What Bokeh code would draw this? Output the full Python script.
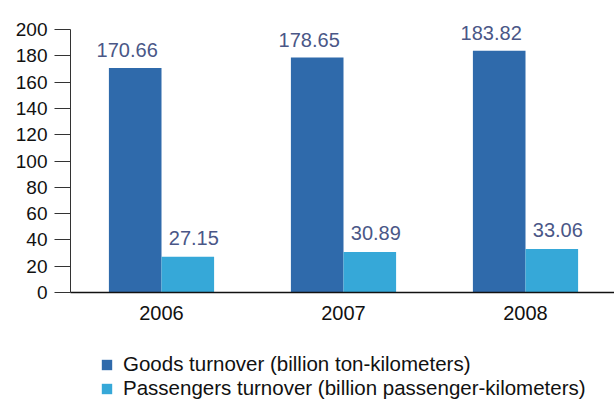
from bokeh.plotting import figure
from bokeh.layouts import column
from bokeh.models import ColumnDataSource, Range1d, FixedTicker, Legend, LegendItem
from bokeh.transform import dodge
from bokeh.embed import file_html
from bokeh.resources import INLINE
from bokeh.core.properties import value

years = [2006, 2007, 2008]
goods = [170.66, 178.65, 183.82]
passengers = [27.15, 30.89, 33.06]
goods_labels = ["170.66", "178.65", "183.82"]
passenger_labels = ["27.15", "30.89", "33.06"]
y_ticks = [0, 20, 40, 60, 80, 100, 120, 140, 160, 180, 200]
series_names = ["Goods turnover (billion ton-kilometers)",
                "Passengers turnover (billion passenger-kilometers)"]

DARK = "#2f6aab"
LIGHT = "#36a8d8"
LABEL_COL = "#4a5787"
FONT = "Liberation Sans"

src = ColumnDataSource(dict(x=years, goods=goods, passengers=passengers,
                            gl=goods_labels, pl=passenger_labels))

W = 614
# frame spans y = 0..292 px; the 0..200 axis occupies the lower 263 px
y_top = 200 * 292 / 263
p = figure(width=W, height=340, output_backend="svg", toolbar_location=None,
           x_range=Range1d(2005.5, 2005.5 + (W - 70) / 182),
           y_range=Range1d(0, y_top),
           min_border_left=70, min_border_right=0, min_border_top=0,
           min_border_bottom=48)
p.outline_line_color = None
p.background_fill_color = "white"
p.border_fill_color = "white"
p.xgrid.visible = False
p.ygrid.visible = False

off = 0.1445
bw = 0.289
r1 = p.vbar(x=dodge("x", -off, range=p.x_range), top="goods", width=bw,
            source=src, color=DARK, line_color=None)
r2 = p.vbar(x=dodge("x", off, range=p.x_range), top="passengers", width=bw,
            source=src, color=LIGHT, line_color=None)

p.text(x=dodge("x", -off, range=p.x_range), y="goods", text="gl", source=src,
       x_offset=-8, y_offset=-18, text_align="center", text_baseline="alphabetic",
       text_font=value(FONT), text_font_size="20px", text_color=LABEL_COL)
p.text(x=dodge("x", off, range=p.x_range), y="passengers", text="pl", source=src,
       x_offset=6, y_offset=-19, text_align="center", text_baseline="alphabetic",
       text_font=value(FONT), text_font_size="20px", text_color=LABEL_COL)

# y axis
ya = p.yaxis[0]
ya.ticker = FixedTicker(ticks=y_ticks)
ya.bounds = (0, 200)
ya.minor_tick_line_color = None
ya.major_tick_in = 0
ya.major_tick_out = 16
ya.axis_line_color = "#333333"
ya.major_tick_line_color = "#333333"
ya.major_label_text_font = FONT
ya.major_label_text_font_size = "19px"
ya.major_label_text_color = "#111111"
ya.major_label_standoff = 7

# x axis
xa = p.xaxis[0]
xa.ticker = FixedTicker(ticks=years)
xa.minor_tick_line_color = None
xa.major_tick_in = 0
xa.major_tick_out = 0
xa.axis_line_color = "#111111"
xa.axis_line_width = 1.5
xa.major_label_text_font = FONT
xa.major_label_text_font_size = "20px"
xa.major_label_text_color = "#111111"
xa.major_label_standoff = 13

# legend in a separate strip below the chart
lg = figure(width=W, height=60, output_backend="svg", toolbar_location=None,
            x_range=Range1d(0, 1), y_range=Range1d(0, 1),
            x_axis_location=None, y_axis_location=None,
            min_border=0, min_border_left=0, min_border_right=0,
            min_border_top=0, min_border_bottom=0)
lg.grid.visible = False
lg.outline_line_color = None
dummy = ColumnDataSource(dict(x=[5], top=[0]))
l1 = lg.vbar(x="x", top="top", width=0.1, source=dummy, color=DARK, line_color=None)
l2 = lg.vbar(x="x", top="top", width=0.1, source=dummy, color=LIGHT, line_color=None)

legend = Legend(items=[LegendItem(label=series_names[0], renderers=[l1]),
                       LegendItem(label=series_names[1], renderers=[l2])],
                location=(30, 0), orientation="vertical",
                border_line_color=None, background_fill_alpha=0,
                padding=0, margin=0, spacing=0,
                glyph_width=13, glyph_height=13, label_height=19,
                label_standoff=10,
                label_text_font=FONT, label_text_font_size="20.5px",
                label_text_color="#111111")
lg.add_layout(legend, "center")

layout = column(p, lg, spacing=0)
open("out.html", "w").write(file_html(layout, INLINE))
